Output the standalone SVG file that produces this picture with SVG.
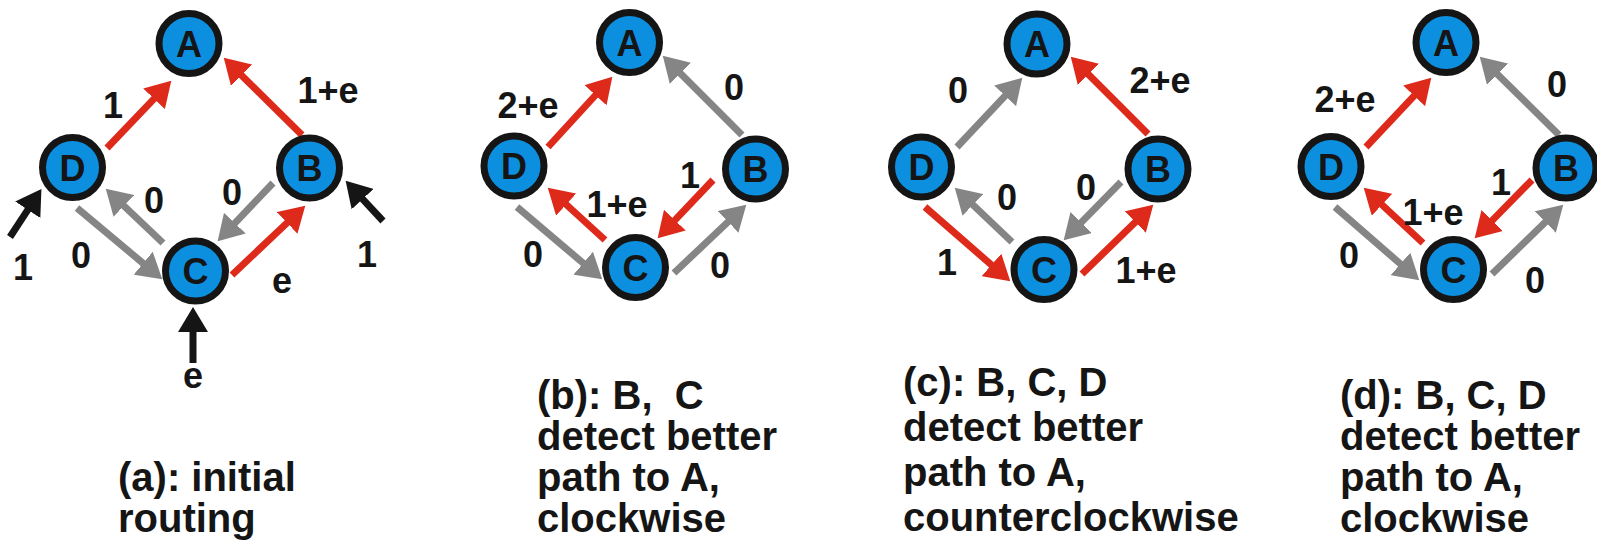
<svg xmlns="http://www.w3.org/2000/svg" width="1597" height="541" viewBox="0 0 1597 541">
<style>
.n circle{fill:#0C8FDF;stroke:#151515;stroke-width:7}
.n text{font-family:"Liberation Sans",Arial,sans-serif;font-weight:bold;font-size:36px;fill:#151515;text-anchor:middle}
.r{stroke:#DD2A1B;stroke-width:7;fill:none;marker-end:url(#mr)}
.g{stroke:#858585;stroke-width:7;fill:none;marker-end:url(#mg)}
.k{stroke:#151515;stroke-width:7;fill:none;marker-end:url(#mk)}
.l{font-family:"Liberation Sans",Arial,sans-serif;font-weight:bold;font-size:36px;fill:#151515;text-anchor:middle}
.cap{font-family:"Liberation Sans",Arial,sans-serif;font-weight:bold;font-size:40px;fill:#151515}
</style>
<defs>
<marker id="mr" viewBox="0 0 25 30" refX="3" refY="15" markerWidth="25" markerHeight="30" markerUnits="userSpaceOnUse" orient="auto"><path d="M0,0 L25,15 L0,30 Z" fill="#DD2A1B"/></marker>
<marker id="mg" viewBox="0 0 25 30" refX="3" refY="15" markerWidth="25" markerHeight="30" markerUnits="userSpaceOnUse" orient="auto"><path d="M0,0 L25,15 L0,30 Z" fill="#858585"/></marker>
<marker id="mk" viewBox="0 0 25 30" refX="3" refY="15" markerWidth="25" markerHeight="30" markerUnits="userSpaceOnUse" orient="auto"><path d="M0,0 L25,15 L0,30 Z" fill="#151515"/></marker>
</defs>
<rect width="1597" height="541" fill="#ffffff"/>
<g id="connectors">
<!-- panel a -->
<line class="r" x1="107" y1="148" x2="156.1" y2="96.6"/>
<line class="r" x1="302" y1="135" x2="239.4" y2="73.2"/>
<line class="g" x1="77" y1="208" x2="145.4" y2="265.2"/>
<line class="g" x1="163" y1="243" x2="121.7" y2="203.8"/>
<line class="g" x1="273" y1="183" x2="232.8" y2="225.3"/>
<line class="r" x1="232" y1="275" x2="289.3" y2="220.8"/>
<line class="k" x1="10" y1="237" x2="29.4" y2="207.3"/>
<line class="k" x1="383" y1="221" x2="360.6" y2="196.9"/>
<line class="k" x1="193" y1="363" x2="193" y2="329"/>
<!-- panel b -->
<line class="r" x1="548" y1="147" x2="597.5" y2="93"/>
<line class="g" x1="742" y1="135" x2="678.3" y2="71.3"/>
<line class="r" x1="713" y1="180" x2="672.8" y2="222.3"/>
<line class="r" x1="605" y1="240" x2="564" y2="202.5"/>
<line class="g" x1="517" y1="207" x2="585.5" y2="265.1"/>
<line class="g" x1="674" y1="273" x2="730.3" y2="219.8"/>
<!-- panel c -->
<line class="g" x1="957" y1="147" x2="1007.2" y2="93.7"/>
<line class="r" x1="1148" y1="134" x2="1086.3" y2="72.3"/>
<line class="g" x1="1012" y1="242" x2="970.7" y2="202.8"/>
<line class="g" x1="1121" y1="182" x2="1079.1" y2="224.6"/>
<line class="r" x1="925" y1="207" x2="993.7" y2="266.9"/>
<line class="r" x1="1082" y1="274" x2="1137.5" y2="220"/>
<!-- panel d -->
<line class="r" x1="1366" y1="147" x2="1416.2" y2="93.7"/>
<line class="g" x1="1559" y1="135" x2="1495.4" y2="72.2"/>
<line class="r" x1="1532" y1="180" x2="1490.1" y2="222.6"/>
<line class="r" x1="1423" y1="243" x2="1379.8" y2="202.7"/>
<line class="g" x1="1335" y1="207" x2="1402.7" y2="265.9"/>
<line class="g" x1="1492" y1="274" x2="1547.5" y2="220"/>
<!-- labels a -->
<text class="l" x="113" y="118">1</text>
<text class="l" x="328" y="103">1+e</text>
<text class="l" x="81" y="268">0</text>
<text class="l" x="154" y="213">0</text>
<text class="l" x="232" y="205">0</text>
<text class="l" x="282" y="293">e</text>
<text class="l" x="23" y="280">1</text>
<text class="l" x="367" y="267">1</text>
<text class="l" x="193" y="388">e</text>
<!-- labels b -->
<text class="l" x="528" y="118">2+e</text>
<text class="l" x="734" y="100">0</text>
<text class="l" x="690" y="188">1</text>
<text class="l" x="617" y="217">1+e</text>
<text class="l" x="533" y="267">0</text>
<text class="l" x="720" y="278">0</text>
<!-- labels c -->
<text class="l" x="958" y="103">0</text>
<text class="l" x="1160" y="93">2+e</text>
<text class="l" x="1007" y="210">0</text>
<text class="l" x="1086" y="200">0</text>
<text class="l" x="947" y="275">1</text>
<text class="l" x="1146" y="283">1+e</text>
<!-- labels d -->
<text class="l" x="1345" y="112">2+e</text>
<text class="l" x="1557" y="97">0</text>
<text class="l" x="1501" y="195">1</text>
<text class="l" x="1433" y="225">1+e</text>
<text class="l" x="1349" y="268">0</text>
<text class="l" x="1535" y="293">0</text>
</g>
<g id="a-A" class="n"><circle cx="189" cy="43.5" r="30"/><text x="189" y="56.5">A</text></g>
<g id="a-D" class="n"><circle cx="72.5" cy="167.5" r="30"/><text x="72.5" y="180.5">D</text></g>
<g id="a-B" class="n"><circle cx="309.5" cy="168" r="30"/><text x="309.5" y="181">B</text></g>
<g id="a-C" class="n"><circle cx="195.5" cy="271" r="30"/><text x="195.5" y="284">C</text></g>
<g id="b-A" class="n"><circle cx="629.5" cy="42.5" r="30"/><text x="629.5" y="55.5">A</text></g>
<g id="b-D" class="n"><circle cx="514" cy="166" r="30"/><text x="514" y="179">D</text></g>
<g id="b-B" class="n"><circle cx="755.5" cy="169" r="30"/><text x="755.5" y="182">B</text></g>
<g id="b-C" class="n"><circle cx="635.5" cy="267.5" r="30"/><text x="635.5" y="280.5">C</text></g>
<g id="c-A" class="n"><circle cx="1037" cy="44" r="30"/><text x="1037" y="57">A</text></g>
<g id="c-D" class="n"><circle cx="921.5" cy="167" r="30"/><text x="921.5" y="180">D</text></g>
<g id="c-B" class="n"><circle cx="1158" cy="169" r="30"/><text x="1158" y="182">B</text></g>
<g id="c-C" class="n"><circle cx="1044" cy="269.5" r="30"/><text x="1044" y="282.5">C</text></g>
<g id="d-A" class="n"><circle cx="1446" cy="42.5" r="30"/><text x="1446" y="55.5">A</text></g>
<g id="d-D" class="n"><circle cx="1331" cy="166.5" r="30"/><text x="1331" y="179.5">D</text></g>
<g id="d-B" class="n"><circle cx="1566" cy="168" r="30"/><text x="1566" y="181">B</text></g>
<g id="d-C" class="n"><circle cx="1453.5" cy="269.5" r="30"/><text x="1453.5" y="282.5">C</text></g>
<g id="captions">
<text class="cap" x="118" y="491">(a): initial</text>
<text class="cap" x="118" y="532">routing</text>
<text class="cap" x="537" y="409" xml:space="preserve">(b): B,  C</text>
<text class="cap" x="537" y="450">detect better</text>
<text class="cap" x="537" y="491">path to A,</text>
<text class="cap" x="537" y="532">clockwise</text>
<text class="cap" x="903" y="396">(c): B, C, D</text>
<text class="cap" x="903" y="441">detect better</text>
<text class="cap" x="903" y="486">path to A,</text>
<text class="cap" x="903" y="531">counterclockwise</text>
<text class="cap" x="1340" y="409">(d): B, C, D</text>
<text class="cap" x="1340" y="450">detect better</text>
<text class="cap" x="1340" y="491">path to A,</text>
<text class="cap" x="1340" y="532">clockwise</text>
</g>
</svg>
